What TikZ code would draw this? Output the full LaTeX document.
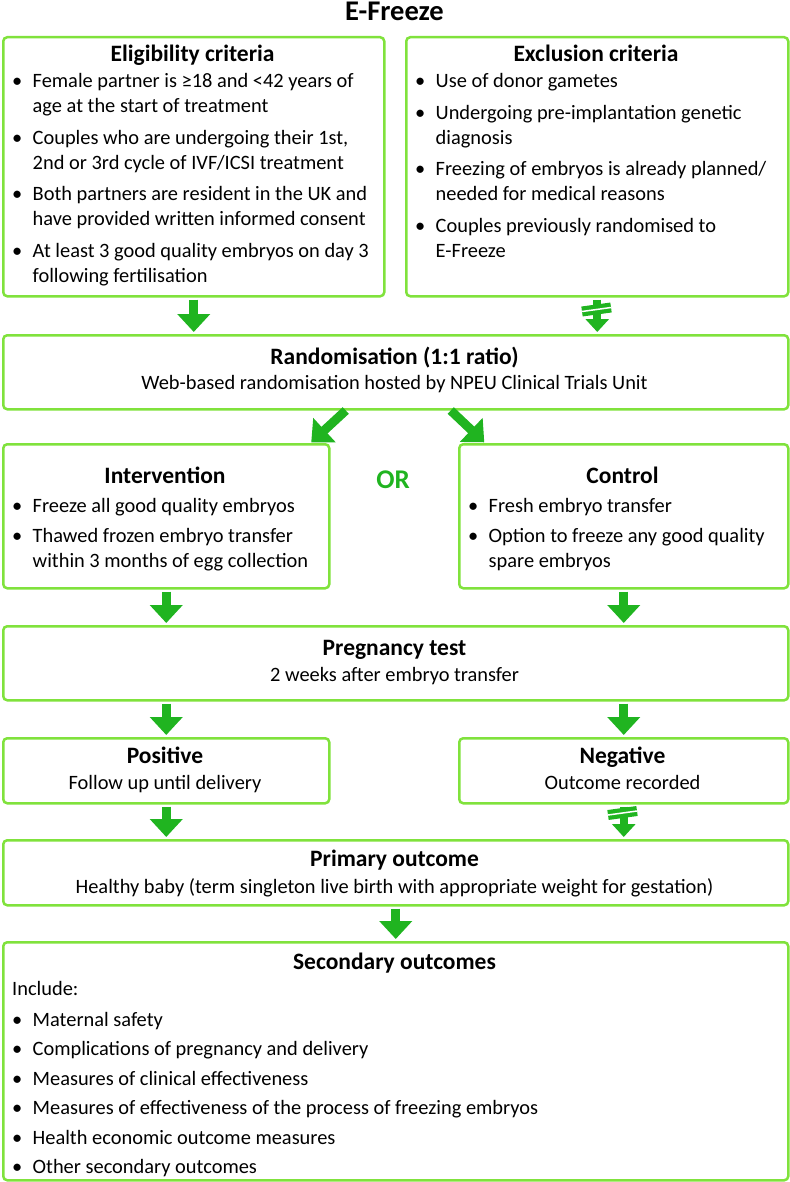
\documentclass[tikz,border=0pt]{standalone}
\usepackage{fontspec}
\setmainfont{Carlito}
\usetikzlibrary{arrows.meta}
\definecolor{boxgreen}{RGB}{128,226,60}
\definecolor{arrowgreen}{RGB}{32,180,32}
\newcommand{\itemdot}{\makebox[20.5pt][l]{\textbullet}}
\newcommand{\itemgap}{\hspace*{20.5pt}}
\tikzset{
  box/.style={draw=boxgreen, line width=2.5pt, rounded corners=4pt, fill=white, inner sep=0pt, anchor=north west},
  head/.style={font=\fontsize{23.5}{28}\selectfont\bfseries, inner sep=0pt, anchor=base},
  body/.style={font=\fontsize{20.4}{25}\selectfont, inner sep=0pt},
  flow/.style={draw=arrowgreen, line width=9pt, -{Triangle[width=32pt,length=18pt]}, shorten <=2pt, shorten >=2pt},
  blocked/.style={draw=arrowgreen, line width=8pt, -{Triangle[width=23pt,length=13pt]}, shorten <=2pt, shorten >=2pt},
  blockbar/.style={draw=arrowgreen, line width=10pt},
}
\begin{document}
\begin{tikzpicture}[x=1pt,y=-1pt]
\useasboundingbox (0,0) rectangle (789,1182);
\node[font=\fontsize{28.5}{32}\selectfont\bfseries, inner sep=0pt, anchor=base] (title) at (394.5,21) {E-Freeze};
% boxes
\node[box, minimum width=381pt, minimum height=259pt] (elig) at (2,36) {};
\node[box, minimum width=382pt, minimum height=259pt] (excl) at (405,36) {};
\node[box, minimum width=785pt, minimum height=74pt] (random) at (2,334) {};
\node[box, minimum width=326pt, minimum height=144pt] (interv) at (2,443) {};
\node[box, minimum width=329pt, minimum height=144pt] (ctrl) at (458,443) {};
\node[box, minimum width=785pt, minimum height=74pt] (preg) at (2,625) {};
\node[box, minimum width=326pt, minimum height=65pt] (pos) at (2,737) {};
\node[box, minimum width=329pt, minimum height=65pt] (neg) at (458,737) {};
\node[box, minimum width=785pt, minimum height=65pt] (primary) at (2,839) {};
\node[box, minimum width=785pt, minimum height=238pt] (second) at (2,941) {};
% texts
\node[head] (elig-h) at (192.5,62) {Eligibility criteria};
\node[body, anchor=base west] (elig-l) at (12,88) {\begin{tabular}[t]{@{}l@{}}
\itemdot Female partner is ≥18 and <42 years of\\
\itemgap age at the start of treatment\\[6.5pt]
\itemdot Couples who are undergoing their 1st,\\
\itemgap 2nd or 3rd cycle of IVF/ICSI treatment\\[6.5pt]
\itemdot Both partners are resident in the UK and\\
\itemgap have provided written informed consent\\[6.5pt]
\itemdot At least 3 good quality embryos on day 3\\
\itemgap following fertilisation
\end{tabular}};
\node[head] (excl-h) at (596,62) {Exclusion criteria};
\node[body, anchor=base west] (excl-l) at (415,88) {\begin{tabular}[t]{@{}l@{}}
\itemdot Use of donor gametes\\[6.5pt]
\itemdot Undergoing pre-implantation genetic\\
\itemgap diagnosis\\[6.5pt]
\itemdot Freezing of embryos is already planned/\\
\itemgap needed for medical reasons\\[6.5pt]
\itemdot Couples previously randomised to\\
\itemgap E-Freeze
\end{tabular}};
\node[head] (random-h) at (394.5,364) {Randomisation (1:1 ratio)};
\node[body, anchor=base] (random-s) at (394.5,389) {Web-based randomisation hosted by NPEU Clinical Trials Unit};
\node[head] (interv-h) at (165,483) {Intervention};
\node[body, anchor=base west] (interv-l) at (12,512) {\begin{tabular}[t]{@{}l@{}}
\itemdot Freeze all good quality embryos\\[5pt]
\itemdot Thawed frozen embryo transfer\\
\itemgap within 3 months of egg collection
\end{tabular}};
\node[font=\fontsize{27}{30}\selectfont\bfseries, text=arrowgreen, inner sep=0pt, anchor=base] (or) at (393,488) {OR};
\node[head] (ctrl-h) at (622.5,483) {Control};
\node[body, anchor=base west] (ctrl-l) at (468,512) {\begin{tabular}[t]{@{}l@{}}
\itemdot Fresh embryo transfer\\[5pt]
\itemdot Option to freeze any good quality\\
\itemgap spare embryos
\end{tabular}};
\node[head] (preg-h) at (394.5,655) {Pregnancy test};
\node[body, anchor=base] (preg-s) at (394.5,681) {2 weeks after embryo transfer};
\node[head] (pos-h) at (165,763) {Positive};
\node[body, anchor=base] (pos-s) at (165,789) {Follow up until delivery};
\node[head] (neg-h) at (622.5,763) {Negative};
\node[body, anchor=base] (neg-s) at (622.5,789) {Outcome recorded};
\node[head] (primary-h) at (394.5,866) {Primary outcome};
\node[body, anchor=base] (primary-s) at (394.5,893) {Healthy baby (term singleton live birth with appropriate weight for gestation)};
\node[head] (second-h) at (394.5,969) {Secondary outcomes};
\node[body, anchor=base west] (second-l) at (12,995) {\begin{tabular}[t]{@{}l@{}}
Include:\\[6pt]
\itemdot Maternal safety\\[4.5pt]
\itemdot Complications of pregnancy and delivery\\[4.5pt]
\itemdot Measures of clinical effectiveness\\[4.5pt]
\itemdot Measures of effectiveness of the process of freezing embryos\\[4.5pt]
\itemdot Health economic outcome measures\\[4.5pt]
\itemdot Other secondary outcomes
\end{tabular}};
% arrows
\draw[flow] (elig.south) -- (elig.south |- random.north);
\draw[blocked] (excl.south) -- (excl.south |- random.north);
\draw[blockbar] (582,311.5) -- (611,307.5);
\draw[white, line width=1.5pt] (582,311.5) -- (611,307.5);
\draw[flow, shorten <=0pt, shorten >=1pt] ([xshift=-50pt]random.south) -- ([xshift=-20pt]interv.north east);
\draw[flow, shorten <=0pt, shorten >=1pt] ([xshift=55pt]random.south) -- ([xshift=27pt]ctrl.north west);
\draw[flow] (interv.south) -- (interv.south |- preg.north);
\draw[flow] (ctrl.south) -- (ctrl.south |- preg.north);
\draw[flow] (pos.north |- preg.south) -- (pos.north);
\draw[flow] (neg.north |- preg.south) -- (neg.north);
\draw[flow] (pos.south) -- (pos.south |- primary.north);
\draw[blocked] (neg.south) -- (neg.south |- primary.north);
\draw[blockbar] (608,815) -- (637,811);
\draw[white, line width=1.5pt] (608,815) -- (637,811);
\draw[flow] (primary.south) -- (second.north);
\end{tikzpicture}
\end{document}
